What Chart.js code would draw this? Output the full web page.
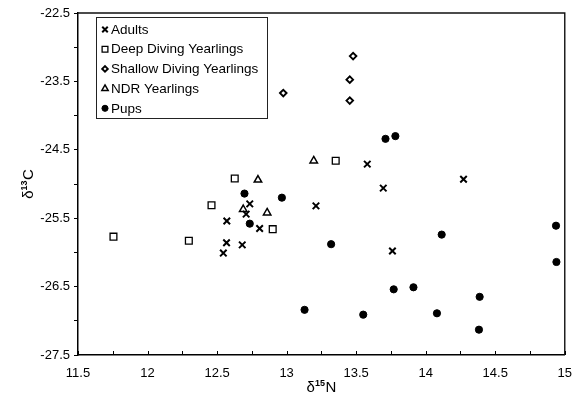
<!DOCTYPE html>
<html>
<head>
<meta charset="utf-8">
<script src="https://cdn.jsdelivr.net/npm/chart.js@4/dist/chart.umd.min.js"></script>
<style>
  html, body { margin: 0; padding: 0; background: #fff; }
  #wrap { width: 583px; height: 396px; position: relative; }
</style>
</head>
<body>
<div id="wrap"><canvas id="c" width="583" height="396"></canvas></div>
<script>
// ---- data ----
const seriesNames = ['Adults', 'Deep Diving Yearlings', 'Shallow Diving Yearlings', 'NDR Yearlings', 'Pups'];

const adultsN15 = [12.735, 12.709, 12.57, 12.806, 12.568, 12.681, 12.545, 13.58, 14.272, 13.695, 13.211, 13.761];
const adultsC13 = [-25.29, -25.44, -25.54, -25.65, -25.86, -25.89, -26.01, -24.71, -24.93, -25.06, -25.32, -25.98];

const deepN15 = [11.755, 12.297, 12.46, 12.627, 12.90, 13.353];
const deepC13 = [-25.77, -25.83, -25.31, -24.92, -25.66, -24.66];

const shallowN15 = [13.478, 13.454, 13.454, 12.976];
const shallowC13 = [-23.13, -23.475, -23.78, -23.67];

const ndrN15 = [12.794, 12.688, 12.86, 13.195];
const ndrC13 = [-24.94, -25.37, -25.42, -24.66];

const pupsN15 = [12.697, 12.735, 12.966, 13.129, 13.711, 13.782, 13.32, 14.115, 14.937, 14.94, 13.77, 13.912, 14.388, 13.551, 14.081, 14.383];
const pupsC13 = [-25.14, -25.58, -25.20, -26.84, -24.34, -24.30, -25.88, -25.74, -25.61, -26.14, -26.54, -26.51, -26.65, -26.91, -26.89, -27.13];

const xMin = 11.5, xMax = 15, xStep = 0.25;
const yMin = -27.5, yMax = -22.5, yStep = 0.5;

// ---- build ----
const pts = (xs, ys) => xs.map((x, i) => ({ x: x, y: ys[i] }));
const styles = [
  { pointStyle: 'crossRot', radius: 4.6, borderWidth: 2, fill: false },
  { pointStyle: 'rect', radius: 4.8, borderWidth: 1.3, fill: false },
  { pointStyle: 'rectRot', radius: 3.3, borderWidth: 1.9, fill: false },
  { pointStyle: 'triangle', radius: 4.3, borderWidth: 1.5, fill: false },
  { pointStyle: 'circle', radius: 3.6, borderWidth: 1, fill: true }
];
const allData = [
  pts(adultsN15, adultsC13),
  pts(deepN15, deepC13),
  pts(shallowN15, shallowC13),
  pts(ndrN15, ndrC13),
  pts(pupsN15, pupsC13)
];
const datasets = seriesNames.map((name, i) => ({
  label: name,
  data: allData[i],
  pointStyle: styles[i].pointStyle,
  pointRadius: styles[i].radius,
  pointHoverRadius: styles[i].radius,
  pointBorderWidth: styles[i].borderWidth,
  borderColor: '#000',
  backgroundColor: styles[i].fill ? '#000' : 'rgba(255,255,255,0)',
  pointBackgroundColor: styles[i].fill ? '#000' : 'rgba(255,255,255,0)',
  pointBorderColor: '#000',
  showLine: false
}));

const FONT = "'Liberation Sans', Arial, sans-serif";

function drawParts(ctx, parts, x, y) {
  // x = start, y = baseline
  let cx = x;
  parts.forEach(p => {
    ctx.font = (p.bold ? 'bold ' : '') + p.size + 'px ' + FONT;
    ctx.fillText(p.t, cx, y - (p.rise || 0));
    cx += ctx.measureText(p.t).width + (p.gap || 0);
  });
}
function partsWidth(ctx, parts) {
  let w = 0;
  parts.forEach(p => {
    ctx.font = (p.bold ? 'bold ' : '') + p.size + 'px ' + FONT;
    w += ctx.measureText(p.t).width + (p.gap || 0);
  });
  return w;
}

const decorPlugin = {
  id: 'decor',
  afterDraw(chart) {
    const ctx = chart.ctx;
    const a = chart.chartArea;
    const xs = chart.scales.x;
    ctx.save();
    // frame top & right
    ctx.strokeStyle = '#111';
    ctx.lineWidth = 1.4;
    ctx.beginPath();
    ctx.moveTo(a.left, a.top);
    ctx.lineTo(a.right, a.top);
    ctx.lineTo(a.right, a.bottom);
    ctx.stroke();
    // inward x ticks
    ctx.lineWidth = 1;
    ctx.strokeStyle = '#000';
    xs.ticks.forEach(t => {
      const px = Math.round(xs.getPixelForValue(t.value)) + 0.5;
      ctx.beginPath();
      ctx.moveTo(px, a.bottom);
      ctx.lineTo(px, a.bottom - 4);
      ctx.stroke();
    });
    // axis titles
    ctx.fillStyle = '#000';
    ctx.textBaseline = 'alphabetic';
    ctx.textAlign = 'left';
    const xParts = [{ t: 'δ', size: 15 }, { t: '15', size: 9, rise: 6, bold: true, gap: 0.5 }, { t: 'N', size: 15 }];
    const xw = partsWidth(ctx, xParts);
    drawParts(ctx, xParts, (a.left + a.right) / 2 - xw / 2, 392);
    const yParts = [{ t: 'δ', size: 15 }, { t: '13', size: 9, rise: 6, bold: true, gap: 0.5 }, { t: 'C', size: 15 }];
    const yw = partsWidth(ctx, yParts);
    ctx.save();
    ctx.translate(33, (a.top + a.bottom) / 2);
    ctx.rotate(-Math.PI / 2);
    drawParts(ctx, yParts, -yw / 2, 0);
    ctx.restore();

    // legend box
    const lx = 96.5, ly = 17.5, lw = 171, lh = 101;
    ctx.fillStyle = '#fff';
    ctx.fillRect(lx, ly, lw, lh);
    ctx.strokeStyle = '#222';
    ctx.lineWidth = 1;
    ctx.strokeRect(lx, ly, lw, lh);
    ctx.font = '13.5px ' + FONT;
    ctx.textBaseline = 'middle';
    chart.data.datasets.forEach((ds, i) => {
      const cy = 29.5 + i * 19.7;
      const st = styles[i];
      ctx.strokeStyle = '#000';
      ctx.fillStyle = st.fill ? '#000' : 'rgba(255,255,255,0)';
      ctx.lineWidth = st.borderWidth;
      const r = st.radius * 0.85;
      if (Chart.helpers && Chart.helpers.drawPoint) {
        Chart.helpers.drawPoint(ctx, { pointStyle: st.pointStyle, radius: r, borderWidth: st.borderWidth, rotation: 0 }, 105, cy);
      } else {
        ctx.beginPath(); ctx.arc(105, cy, r, 0, Math.PI * 2); ctx.fill(); ctx.stroke();
      }
      ctx.fillStyle = '#000';
      ctx.fillText(ds.label, 111, cy + 0.5);
    });
    ctx.restore();
  }
};

new Chart(document.getElementById('c'), {
  type: 'scatter',
  data: { datasets: datasets },
  options: {
    responsive: false,
    animation: false,
    events: [],
    layout: { padding: { left: 0, right: 10, top: 13, bottom: 0 } },
    plugins: { legend: { display: false }, tooltip: { enabled: false } },
    scales: {
      x: {
        type: 'linear',
        min: xMin, max: xMax,
        afterFit(s) { s.height = 41; },
        border: { display: true, color: '#000', width: 1.5 },
        grid: { drawOnChartArea: false, drawTicks: false },
        ticks: {
          stepSize: xStep,
          autoSkip: false,
          maxRotation: 0,
          padding: 11,
          color: '#000',
          font: { family: FONT, size: 13 },
          callback(v) { return (Math.round(v * 4) % 2 === 0) ? String(Math.round(v * 10) / 10) : ''; }
        },
        title: { display: false }
      },
      y: {
        type: 'linear',
        min: yMin, max: yMax,
        afterFit(s) { s.width = 78; },
        border: { display: true, color: '#000', width: 1.5 },
        grid: { drawOnChartArea: false, drawTicks: true, tickLength: 4, color: '#000', lineWidth: 1 },
        ticks: {
          stepSize: yStep,
          autoSkip: false,
          padding: 4,
          color: '#000',
          font: { family: FONT, size: 13 },
          callback(v) { return (Math.abs(Math.round(v * 2)) % 2 === 1) ? (Math.round(v * 10) / 10).toFixed(1) : ''; }
        },
        title: { display: false }
      }
    }
  },
  plugins: [decorPlugin]
});
</script>
</body>
</html>
